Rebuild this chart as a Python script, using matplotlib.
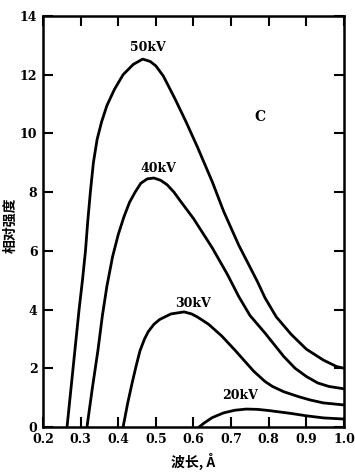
import matplotlib
matplotlib.use("Agg")
import matplotlib.pyplot as plt

# 50 kV
x50 = [0.264, 0.272, 0.28, 0.288, 0.296, 0.305, 0.313, 0.319, 0.326, 0.334, 0.344, 0.356, 0.37,
       0.39, 0.413, 0.44, 0.465, 0.485, 0.50, 0.52, 0.55, 0.58, 0.61, 0.65, 0.68, 0.72, 0.75,
       0.77, 0.79, 0.82, 0.86, 0.90, 0.945, 0.98, 1.0]
y50 = [0.0, 1.0, 2.0, 3.0, 4.0, 5.0, 6.0, 7.0, 8.0, 9.0, 9.8, 10.4, 10.95,
       11.5, 12.0, 12.35, 12.53, 12.45, 12.3, 11.95, 11.2, 10.4, 9.55, 8.35, 7.35, 6.2, 5.45,
       4.95, 4.4, 3.75, 3.15, 2.65, 2.28, 2.06, 2.0]
# 40 kV
x40 = [0.317, 0.331, 0.346, 0.358, 0.37, 0.385, 0.40, 0.415, 0.43, 0.445, 0.46, 0.477, 0.495,
       0.513, 0.53, 0.548, 0.565, 0.60, 0.65, 0.69, 0.72, 0.75, 0.79, 0.84, 0.87, 0.90, 0.93,
       0.96, 1.0]
y40 = [0.0, 1.3, 2.6, 3.8, 4.8, 5.8, 6.55, 7.15, 7.65, 8.0, 8.3, 8.45, 8.48,
       8.4, 8.25, 8.0, 7.7, 7.1, 6.1, 5.2, 4.45, 3.8, 3.2, 2.4, 2.0, 1.72, 1.5,
       1.38, 1.3]
# 30 kV
x30 = [0.413, 0.425, 0.437, 0.448, 0.458, 0.47, 0.48, 0.495, 0.51, 0.54, 0.575, 0.595, 0.61,
       0.64, 0.675, 0.71, 0.76, 0.79, 0.81, 0.84, 0.88, 0.91, 0.945, 1.0]
y30 = [0.0, 0.8, 1.5, 2.1, 2.6, 3.0, 3.25, 3.5, 3.66, 3.85, 3.92, 3.85, 3.75,
       3.5, 3.1, 2.62, 1.9, 1.55, 1.38, 1.2, 1.03, 0.92, 0.82, 0.75]
# 20 kV
x20 = [0.615, 0.63, 0.65, 0.68, 0.71, 0.74, 0.77, 0.80, 0.83, 0.86, 0.90, 0.945, 1.0]
y20 = [0.0, 0.15, 0.32, 0.48, 0.57, 0.61, 0.60, 0.56, 0.51, 0.46, 0.38, 0.31, 0.27]

labels = ["50kV", "40kV", "30kV", "20kV"]
label_pos = [(0.479, 12.93), (0.506, 8.79), (0.60, 4.22), (0.724, 1.06)]

xticks = [0.2, 0.3, 0.4, 0.5, 0.6, 0.7, 0.8, 0.9, 1.0]
xticklabels = ["0.2", "0.3", "0.4", "0.5", "0.6", "0.7", "0.8", "0.9", "1.0"]
yticks = [0, 2, 4, 6, 8, 10, 12, 14]

serif = "DejaVu Serif"
cjk = ["Noto Sans CJK SC", "DejaVu Sans"]

fig = plt.figure(figsize=(3.55, 4.73), dpi=100)
ax = fig.add_axes([0.121, 0.0973, 0.848, 0.869])

for xs, ys in [(x50, y50), (x40, y40), (x30, y30), (x20, y20)]:
    ax.plot(xs, ys, color="black", lw=2.0, solid_joinstyle="round", solid_capstyle="round")

for t, (lx, ly) in zip(labels, label_pos):
    ax.text(lx, ly, t, ha="center", va="center", fontsize=9, fontweight="bold", family=serif)

ax.text(0.777, 10.56, "C", ha="center", va="center", fontsize=10, fontweight="bold", family=serif)

ax.set_xlim(0.2, 1.0)
ax.set_ylim(0, 14)
ax.set_xticks(xticks)
ax.set_xticklabels(xticklabels)
ax.set_yticks(yticks)
ax.tick_params(direction="in", length=7, width=1.5, top=True, right=True,
               labelsize=9, pad=4)
for lab in ax.get_xticklabels() + ax.get_yticklabels():
    lab.set_fontweight("bold")
    lab.set_family(serif)
for s in ax.spines.values():
    s.set_linewidth(1.8)

ax.set_ylabel("相对强度", family=cjk, fontsize=10, fontweight="bold")
ax.yaxis.set_label_coords(-0.083, 0.49)
ax.set_xlabel("波长, Å", family=cjk, fontsize=10, fontweight="bold", labelpad=5)

fig.savefig("out.png", dpi=100)
